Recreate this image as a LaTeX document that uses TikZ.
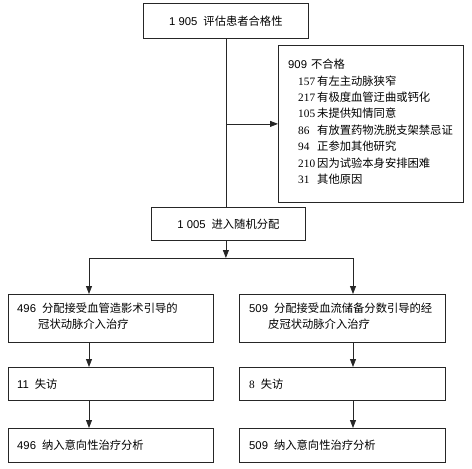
\documentclass[tikz,border=0pt]{standalone}
\usepackage{fontspec}
\setmainfont{Liberation Sans}
\newfontfamily\cjk{Noto Sans CJK SC}
\newfontfamily\serifnum{Liberation Serif}
\usetikzlibrary{arrows.meta}
\newcommand{\zh}[1]{{\cjk #1}}
\newcommand{\itm}[2]{\hspace*{10pt}\makebox[19pt][l]{\serifnum #1}\zh{#2}}
\begin{document}
\begin{tikzpicture}[x=1pt,y=-1pt,
  box/.style={draw=black!85, line width=0.8pt, rectangle, inner sep=0pt, anchor=north west},
  txt/.style={inner sep=0pt, anchor=west, align=left, font=\fontsize{11.3}{16.5}\selectfont},
  arr/.style={draw=black!85, line width=0.8pt, -{Triangle[length=8pt,width=6pt]}},
  ln/.style={draw=black!85, line width=0.8pt}]
\useasboundingbox (0,0) rectangle (472,469);

% top
\node[box, minimum width=165pt, minimum height=35pt] (top) at (143,3) {};
\node[txt, anchor=center] (topt) at (top.center) {1 905\hspace{6pt}\zh{评估患者合格性}};

% right exclusion box
\node[box, minimum width=185pt, minimum height=157pt] (rbox) at (278,45) {};
\node[txt, anchor=north west, font=\fontsize{11.3}{16.4}\selectfont] (rboxt) at ([xshift=10pt,yshift=-14pt]rbox.north west)
 {909\hspace{4pt}\zh{不合格}\\
  \itm{157}{有左主动脉狭窄}\\
  \itm{217}{有极度血管迂曲或钙化}\\
  \itm{105}{未提供知情同意}\\
  \itm{86}{有放置药物洗脱支架禁忌证}\\
  \itm{94}{正参加其他研究}\\
  \itm{210}{因为试验本身安排困难}\\
  \itm{31}{其他原因}};

% randomisation
\node[box, minimum width=154pt, minimum height=33pt] (mid) at (151,207) {};
\node[txt, anchor=center] (midt) at (mid.center) {1 005\hspace{6pt}\zh{进入随机分配}};

% lower boxes left
\node[box, minimum width=205pt, minimum height=48pt] (l1) at (8,294) {};
\node[txt] (l1t) at ([xshift=9pt,yshift=2pt]l1.west) {496\hspace{6pt}\zh{分配接受血管造影术引导的}\\\hspace*{21pt}\zh{冠状动脉介入治疗}};
\node[box, minimum width=205pt, minimum height=33pt] (l2) at (8,367) {};
\node[txt] (l2t) at ([xshift=9pt]l2.west) {11\hspace{6pt}\zh{失访}};
\node[box, minimum width=205pt, minimum height=34pt] (l3) at (8,428) {};
\node[txt] (l3t) at ([xshift=9pt]l3.west) {496\hspace{6pt}\zh{纳入意向性治疗分析}};

% lower boxes right
\node[box, minimum width=206pt, minimum height=48pt] (r1) at (239,294) {};
\node[txt] (r1t) at ([xshift=10pt,yshift=2pt]r1.west) {509\hspace{6pt}\zh{分配接受血流储备分数引导的经}\\\hspace*{19pt}\zh{皮冠状动脉介入治疗}};
\node[box, minimum width=206pt, minimum height=33pt] (r2) at (239,367) {};
\node[txt] (r2t) at ([xshift=10pt]r2.west) {{\serifnum 8}\hspace{6pt}\zh{失访}};
\node[box, minimum width=206pt, minimum height=34pt] (r3) at (239,428) {};
\node[txt] (r3t) at ([xshift=10pt]r3.west) {509\hspace{6pt}\zh{纳入意向性治疗分析}};

% connectors
\coordinate (hl) at (89,258);
\coordinate (hr) at (353,258);
\draw[ln] (top.south) -- (top.south |- mid.north);
\draw[arr] (top.south |- rbox.west) -- (rbox.west);
\draw[arr] (top.south |- mid.south) -- (top.south |- hl);
\draw[ln] (hl) -- (hr);
\draw[arr] (hl) -- (hl |- l1.north);
\draw[arr] (hr) -- (hr |- r1.north);
\draw[arr] (hl |- l1.south) -- (hl |- l2.north);
\draw[arr] (hr |- r1.south) -- (hr |- r2.north);
\draw[arr] (hl |- l2.south) -- (hl |- l3.north);
\draw[arr] (hr |- r2.south) -- (hr |- r3.north);
\end{tikzpicture}
\end{document}
